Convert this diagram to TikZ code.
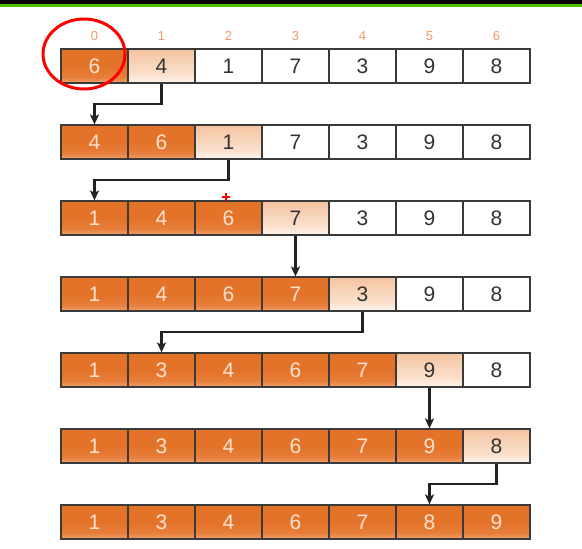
\documentclass[tikz,border=0pt]{standalone}
\usepackage{fontspec}
\setmainfont{Liberation Sans}
\usetikzlibrary{arrows.meta,calc}
\definecolor{orng}{HTML}{E4732A}
\definecolor{orngb}{HTML}{EFA06A}
\definecolor{pk1}{HTML}{F5C3A0}
\definecolor{pk2}{HTML}{FAE0CC}
\definecolor{pk3}{HTML}{FFF5EE}
\definecolor{peachb}{HTML}{FBE2D0}
\definecolor{idxc}{HTML}{EE9A68}
\definecolor{edge}{HTML}{3A3A3A}
\definecolor{txt}{HTML}{333333}
\definecolor{arr}{HTML}{222222}
\definecolor{topgreen}{HTML}{48C000}
\pgfdeclareverticalshading{orangeshade}{100bp}{color(0bp)=(orngb); color(25bp)=(orngb); color(34bp)=(orng!75!orngb); color(48bp)=(orng); color(100bp)=(orng)}
\pgfdeclareverticalshading{peachshade}{100bp}{color(0bp)=(pk3); color(25bp)=(pk3); color(38bp)=(pk2); color(50bp)=(pk2!70!pk1); color(75bp)=(pk1); color(100bp)=(pk1)}
\tikzset{
  cell/.style={draw=edge, line width=1.2pt, minimum width=67pt, minimum height=34pt,
    inner sep=0pt, font=\fontsize{21}{21}\selectfont},
  sortedcell/.style={cell, shading=orangeshade, text=peachb},
  currentcell/.style={cell, shading=peachshade, text=txt},
  plaincell/.style={cell, fill=white, text=txt},
  idx/.style={text=idxc, font=\fontsize{13}{13}\selectfont},
  flow/.style={draw=arr, line width=2.4pt, -{Stealth[length=10pt,width=9pt,inset=2.5pt]}}
}
\begin{document}
\begin{tikzpicture}[x=1pt,y=-1pt]
\path[use as bounding box, fill=white] (0,0) rectangle (582,549);
\fill[black] (0,0) rectangle (582,4);
\fill[topgreen] (0,4) rectangle (582,7);
% index labels
\foreach \j in {0,...,6} {
  \node[idx] (ix\j) at ({94.5+67*\j},36) {\j};
}
% rows: values / sorted count / current index
\foreach \vals/\ns/\cur [count=\i from 0] in {
  {6,4,1,7,3,9,8}/1/1,
  {4,6,1,7,3,9,8}/2/2,
  {1,4,6,7,3,9,8}/3/3,
  {1,4,6,7,3,9,8}/4/4,
  {1,3,4,6,7,9,8}/5/5,
  {1,3,4,6,7,9,8}/6/6,
  {1,3,4,6,7,8,9}/7/9} {
  \foreach \v [count=\j from 0] in \vals {
    \ifnum\j<\ns
      \node[sortedcell] (r\i c\j) at ({94.5+67*\j},{66+76*\i}) {\v};
    \else\ifnum\j=\cur
      \node[currentcell] (r\i c\j) at ({94.5+67*\j},{66+76*\i}) {\v};
    \else
      \node[plaincell] (r\i c\j) at ({94.5+67*\j},{66+76*\i}) {\v};
    \fi\fi
  }
  \draw[edge, line width=1.6pt] (r\i c0.north west) rectangle (r\i c6.south east);
}
% arrows
\foreach \a/\from/\to in {0/1/0, 1/2/0, 2/3/3, 3/4/1, 4/5/5, 5/6/5} {
  \pgfmathtruncatemacro{\b}{\a+1}
  \draw[flow] (r\a c\from.south) -- ($(r\a c\from.south)!0.5!(r\a c\from.south |- r\b c\to.north)$)
    -| (r\b c\to.north);
}
% red circle
\draw[red, line width=3pt] (84,54) ellipse [x radius=41, y radius=35];
% cursor mark
\draw[red, line width=1.2pt] (222,197) -- (230,197) (226,193) -- (226,201);
\end{tikzpicture}
\end{document}
